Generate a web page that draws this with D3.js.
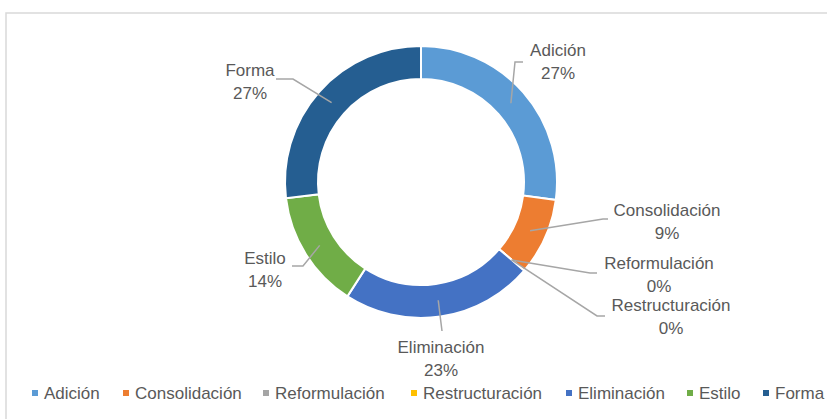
<!DOCTYPE html>
<html><head><meta charset="utf-8">
<script src="https://cdn.jsdelivr.net/npm/d3@7"></script>
<style>
html,body{margin:0;padding:0;background:#fff;}
svg{display:block;}
text{font-family:"Liberation Sans Narrow","Arial Narrow","Liberation Sans",sans-serif;fill:#595959;}
</style></head>
<body>
<svg id="chart" width="827" height="419"></svg>
<script>
const categories = ["Adición","Consolidación","Reformulación","Restructuración","Eliminación","Estilo","Forma"];
const values = [27.1, 9.2, 0, 0, 22.8, 14.0, 26.9];
const pctLabels = ["27%","9%","0%","0%","23%","14%","27%"];
const colors = ["#5B9BD5","#ED7D31","#A5A5A5","#FFC000","#4472C4","#70AD47","#255E91"];

// label layout: text centre x, first line baseline y, leader elbow & end
const labelLayout = {
  "Adición":        {x:558, y:56,  elbow:[515,62],  end:[523,62]},
  "Consolidación":  {x:667, y:216, elbow:[603,219], end:[608,219]},
  "Reformulación":  {x:659, y:269, elbow:[590,273], end:[597,273]},
  "Restructuración":{x:671, y:311, elbow:[597,316], end:[605,316]},
  "Eliminación":    {x:441, y:353, elbow:[442,331], end:[442,331]},
  "Estilo":         {x:265, y:264, elbow:[303,266], end:[292,266]},
  "Forma":          {x:250, y:76,  elbow:[293,79],  end:[276,79]}
};

const svg = d3.select("#chart");
const W = 827, H = 419;

// chart frame
svg.append("rect").attr("x",6).attr("y",13).attr("width",W+20).attr("height",H+20)
  .attr("fill","#fff").attr("stroke","#d9d9d9").attr("stroke-width",1.5);

const cx = 421, cy = 182, rOuter = 136, rInner = 103;
const g = svg.append("g").attr("transform",`translate(${cx},${cy})`);

const data = categories.map((c,i)=>({cat:c, value:values[i], pct:pctLabels[i], color:colors[i]}));
const pie = d3.pie().value(d=>d.value).sort(null);
const arcs = pie(data);
const arc = d3.arc().innerRadius(rInner).outerRadius(rOuter);
const rMid = (rInner + rOuter) / 2;
const midArc = d3.arc().innerRadius(rMid).outerRadius(rMid);

g.selectAll("path.slice").data(arcs).join("path")
  .attr("class","slice")
  .attr("d",arc)
  .attr("fill",d=>d.data.color)
  .attr("stroke","#fff").attr("stroke-width",2);

// leaders
const leaders = svg.append("g");
arcs.forEach(a=>{
  const L = labelLayout[a.data.cat];
  const c = midArc.centroid(a);
  const p0 = [cx + c[0], cy + c[1]];
  leaders.append("polyline")
    .attr("points",[p0, L.elbow, L.end].map(p=>p.join(",")).join(" "))
    .attr("fill","none").attr("stroke","#a6a6a6").attr("stroke-width",1.5);
});

// labels
const labels = svg.append("g");
arcs.forEach(a=>{
  const L = labelLayout[a.data.cat];
  const t = labels.append("text").attr("text-anchor","middle").attr("font-size",17);
  t.append("tspan").attr("x",L.x).attr("y",L.y).text(a.data.cat);
  t.append("tspan").attr("x",L.x).attr("y",L.y+22.5).text(a.data.pct);
});

// legend
const legendX = [32,123,263,411,566,687,763];
const legend = svg.append("g");
data.forEach((d,i)=>{
  legend.append("rect").attr("x",legendX[i]).attr("y",390).attr("width",6).attr("height",6).attr("fill",d.color);
  legend.append("text").attr("x",legendX[i]+12).attr("y",399).attr("font-size",17).text(d.cat);
});
</script>
</body></html>
